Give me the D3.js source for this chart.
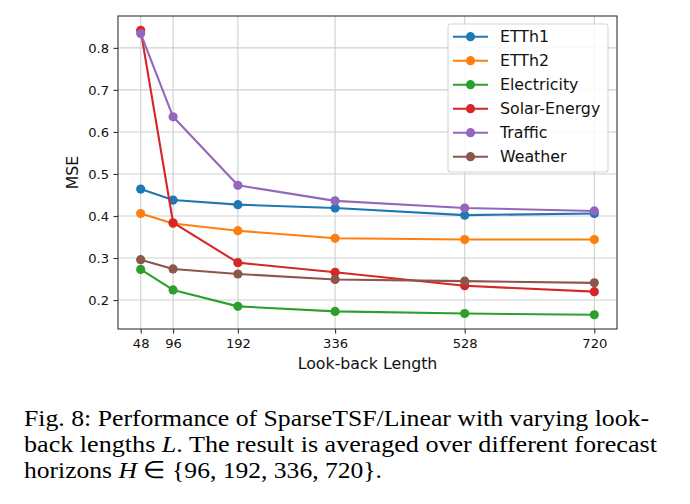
<!DOCTYPE html>
<html>
<head>
<meta charset="utf-8">
<script src="https://cdn.jsdelivr.net/npm/d3@7"></script>
<style>
  body { margin: 0; background: #fff; }
  svg { display: block; }
</style>
</head>
<body>
<svg id="chart" width="690" height="504"></svg>
<script>
// look-back lengths on the x axis
const lookBack = [48, 96, 192, 336, 528, 720];
const yTicks = [0.2, 0.3, 0.4, 0.5, 0.6, 0.7, 0.8];

const names = ["ETTh1", "ETTh2", "Electricity", "Solar-Energy", "Traffic", "Weather"];
const colors = ["#1f77b4", "#ff7f0e", "#2ca02c", "#d62728", "#9467bd", "#8c564b"];

const etth1 = [0.464, 0.438, 0.427, 0.419, 0.402, 0.406];
const etth2 = [0.406, 0.382, 0.365, 0.347, 0.344, 0.344];
const electricity = [0.273, 0.224, 0.185, 0.173, 0.168, 0.165];
const solar = [0.842, 0.384, 0.289, 0.266, 0.234, 0.220];
const traffic = [0.834, 0.636, 0.473, 0.436, 0.419, 0.412];
const weather = [0.296, 0.274, 0.262, 0.249, 0.245, 0.241];

const series = [etth1, etth2, electricity, solar, traffic, weather];

const d3 = window.d3;
const margin = { top: 16, right: 73, bottom: 175, left: 118 };
const width = 690, height = 504;
const svg = d3.select("#chart");

// matplotlib style 5% padding around the data
const xExt = d3.extent(lookBack);
const xPad = (xExt[1] - xExt[0]) * 0.05;
const allVals = series.flat();
const yExt = d3.extent(allVals);
const yPad = (yExt[1] - yExt[0]) * 0.05;

const x = d3.scaleLinear()
  .domain([xExt[0] - xPad, xExt[1] + xPad])
  .range([margin.left, width - margin.right]);
const y = d3.scaleLinear()
  .domain([yExt[0] - yPad, yExt[1] + yPad])
  .range([height - margin.bottom, margin.top]);

const plotBottom = height - margin.bottom;
const plotRight = width - margin.right;

// grid
const grid = svg.append("g").attr("stroke", "#cfcfcf").attr("stroke-width", 1.1);
grid.selectAll(".gx").data(lookBack).enter().append("line")
  .attr("x1", d => x(d)).attr("x2", d => x(d))
  .attr("y1", margin.top).attr("y2", plotBottom);
grid.selectAll(".gy").data(yTicks).enter().append("line")
  .attr("x1", margin.left).attr("x2", plotRight)
  .attr("y1", d => y(d)).attr("y2", d => y(d));

// axes
svg.append("g")
  .attr("transform", `translate(0, ${plotBottom})`)
  .call(d3.axisBottom(x).tickValues(lookBack).tickSize(4.5).tickPadding(5).tickFormat(d3.format("d")))
  .call(g => g.select(".domain").remove())
  .call(g => g.selectAll(".tick line").attr("stroke", "#333").attr("stroke-width", 1.1))
  .call(g => g.selectAll(".tick text")
    .attr("font-family", "DejaVu Sans").attr("font-size", "13.1px").attr("fill", "#111"));

svg.append("g")
  .attr("transform", `translate(${margin.left}, 0)`)
  .call(d3.axisLeft(y).tickValues(yTicks).tickSize(4.5).tickPadding(4.5).tickFormat(d3.format(".1f")))
  .call(g => g.select(".domain").remove())
  .call(g => g.selectAll(".tick line").attr("stroke", "#333").attr("stroke-width", 1.1))
  .call(g => g.selectAll(".tick text")
    .attr("font-family", "DejaVu Sans").attr("font-size", "13.1px").attr("fill", "#111"));

svg.append("text")
  .attr("x", (margin.left + plotRight) / 2)
  .attr("y", 368.5)
  .attr("text-anchor", "middle")
  .attr("font-family", "DejaVu Sans").attr("font-size", "15.8px").attr("fill", "#111")
  .text("Look-back Length");

svg.append("text")
  .attr("transform", `translate(78, ${(margin.top + plotBottom) / 2}) rotate(-90)`)
  .attr("text-anchor", "middle")
  .attr("font-family", "DejaVu Sans").attr("font-size", "15.8px").attr("fill", "#111")
  .text("MSE");

// lines + markers
const line = d3.line().x((d, i) => x(lookBack[i])).y(d => y(d));
series.forEach((vals, s) => {
  const g = svg.append("g");
  g.append("path")
    .datum(vals)
    .attr("fill", "none")
    .attr("stroke", colors[s])
    .attr("stroke-width", 2.1)
    .attr("stroke-linejoin", "round")
    .attr("d", line);
  g.selectAll("circle").data(vals).enter().append("circle")
    .attr("cx", (d, i) => x(lookBack[i]))
    .attr("cy", d => y(d))
    .attr("r", 4.6)
    .attr("fill", colors[s]);
});

// frame
svg.append("rect")
  .attr("x", margin.left).attr("y", margin.top)
  .attr("width", plotRight - margin.left).attr("height", plotBottom - margin.top)
  .attr("fill", "none").attr("stroke", "#333").attr("stroke-width", 1.1);

// legend
const legend = svg.append("g");
legend.append("rect")
  .attr("x", 448).attr("y", 24).attr("width", 160).attr("height", 148).attr("rx", 3)
  .attr("fill", "#fff").attr("fill-opacity", 0.85)
  .attr("stroke", "#d6d6d6").attr("stroke-width", 1.1);
const rows = legend.selectAll(".row").data(names).enter().append("g")
  .attr("transform", (d, i) => `translate(0, ${36.7 + i * 24})`);
rows.append("line")
  .attr("x1", 453).attr("x2", 488)
  .attr("stroke", (d, i) => colors[i]).attr("stroke-width", 2.1);
rows.append("circle")
  .attr("cx", 470.5).attr("r", 4.6)
  .attr("fill", (d, i) => colors[i]);
rows.append("text")
  .attr("x", 500).attr("y", 5.6)
  .attr("font-family", "DejaVu Sans").attr("font-size", "15.8px").attr("fill", "#111")
  .text(d => d);

// caption
const cap = svg.append("g")
  .attr("font-family", "Liberation Serif").attr("font-size", "24px").attr("fill", "#000");
const l1 = cap.append("text").attr("x", 24).attr("y", 425.7)
  .attr("textLength", 625).attr("lengthAdjust", "spacingAndGlyphs")
  .text("Fig. 8: Performance of SparseTSF/Linear with varying look-");
const l2 = cap.append("text").attr("x", 24).attr("y", 451.7)
  .attr("textLength", 633).attr("lengthAdjust", "spacingAndGlyphs");
l2.append("tspan").text("back lengths ");
l2.append("tspan").attr("font-style", "italic").text("L");
l2.append("tspan").text(". The result is averaged over different forecast");
const l3 = cap.append("text").attr("x", 24).attr("y", 477.7)
  .attr("textLength", 358).attr("lengthAdjust", "spacingAndGlyphs");
l3.append("tspan").text("horizons ");
l3.append("tspan").attr("font-style", "italic").text("H");
l3.append("tspan").text(" \u2208 {96, 192, 336, 720}.");
</script>
</body>
</html>
